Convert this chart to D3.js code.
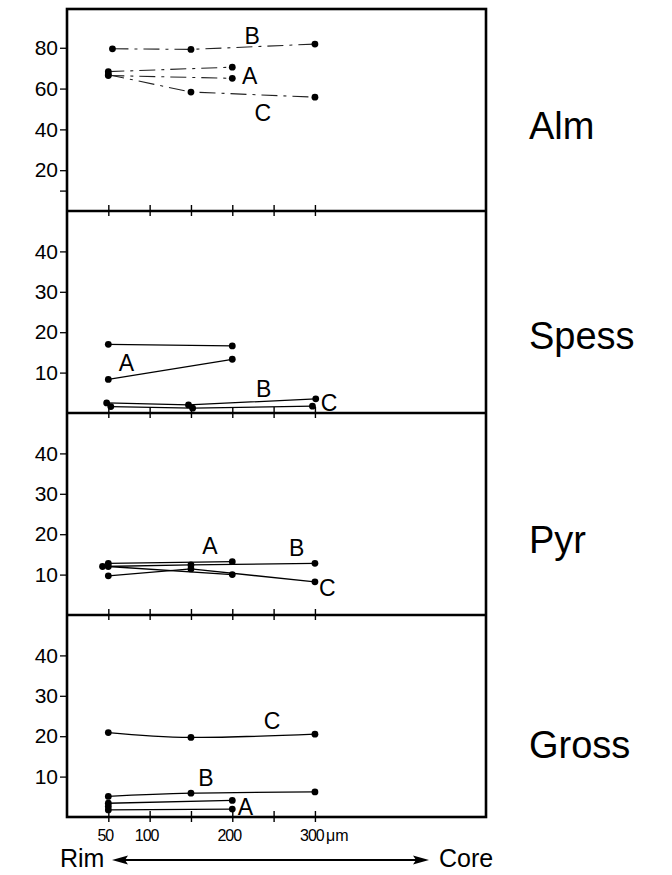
<!DOCTYPE html>
<html><head><meta charset="utf-8">
<script src="https://cdn.jsdelivr.net/npm/d3@7"></script>
<style>
html,body{margin:0;padding:0;background:#fff;}
svg text{font-family:"Liberation Sans","DejaVu Sans",sans-serif;fill:#000;}
</style></head>
<body><svg id="c" width="672" height="875"></svg>
<script>
// ---------- data ----------
const panelNames = ["Alm", "Spess", "Pyr", "Gross"];
const yMaxValues = [99, 50, 50, 50];
const yTicksAlm = [10, 20, 40, 60, 80];
const yLabelsAlm = [20, 40, 60, 80];
const yTicksOther = [10, 20, 30, 40];
const yLabelsOther = [10, 20, 30, 40];
const xTicks = [50, 100, 150, 200, 250, 300];
const xTickLabels = [50, 100, 200, 300];
const xUnit = "μm";

// lines: each is a list of [distance μm, mol %]
const almLines = [
  [[55, 79.5], [150, 79.2], [300, 81.8]],          // B
  [[50, 68.3], [200, 70.5]],                        // A
  [[50, 66.4], [200, 65.0]],                        // A
  [[50, 66.8], [150, 58.3], [300, 55.8]]            // C
];
const spessLines = [
  [[50, 17.0], [200, 16.6]],                        // A
  [[50, 8.3], [200, 13.3]],                         // A
  [[48, 2.5], [147, 2.0], [301, 3.5]],              // B
  [[53, 1.6], [152, 1.2], [297, 1.7]]               // C
];
const pyrLines = [
  [[50, 12.8], [200, 13.2]],                        // A
  [[50, 12.0], [200, 10.0]],                        // A
  [[43, 12.0], [150, 12.4], [300, 12.8]],           // B
  [[50, 9.7], [150, 11.4], [300, 8.2]]              // C
];
const grossLines = [
  [[50, 20.9], [150, 19.7], [300, 20.5]],           // C
  [[50, 5.1], [150, 5.9], [300, 6.2]],              // B
  [[50, 3.4], [200, 4.1]],                          // A
  [[50, 1.75], [200, 1.95]],                        // A
  [[50, 2.6]]
];
// series labels: [text, μm, value]
const almLabels = [["B", 224, 82], ["A", 221, 62.4], ["C", 237, 44]];
const spessLabels = [["A", 72, 10.4], ["B", 238, 4.0], ["C", 317, 0.5]];
const pyrLabels = [["A", 173, 15], ["B", 278, 14.6], ["C", 315, 4.7]];
const grossLabels = [["C", 248, 21.7], ["B", 168, 7.75], ["A", 216, 0.5]];

const panelLines = [almLines, spessLines, pyrLines, grossLines];
const panelLabels = [almLabels, spessLabels, pyrLabels, grossLabels];

// ---------- layout ----------
const svg = d3.select("#c");
const left = 67, right = 486, top0 = 9, ph = 202;
const x = d3.scaleLinear().domain([0, 507]).range([left, right]);
const nameOffsets = [130, 138, 140, 143];

panelNames.forEach((name, i) => {
  const y0 = top0 + i * ph;
  const y = d3.scaleLinear().domain([0, yMaxValues[i]]).range([y0 + ph, y0]);
  const g = svg.append("g");

  // y axis
  const ticks = i === 0 ? yTicksAlm : yTicksOther;
  const labs = i === 0 ? yLabelsAlm : yLabelsOther;
  const ya = g.append("g").attr("transform", `translate(${left},0)`)
    .call(d3.axisLeft(y).tickValues(ticks).tickSize(7).tickPadding(2)
      .tickFormat(d => labs.includes(d) ? d : ""));
  ya.select(".domain").remove();
  ya.selectAll("line").attr("stroke", "#000").attr("stroke-width", 1.3);
  ya.selectAll("text").style("font-size", "21px").attr("fill", "#000");

  // x ticks on bottom border of panel (crossing)
  const xa = g.append("g").attr("transform", `translate(0,${y0 + ph})`)
    .call(d3.axisBottom(x).tickValues(xTicks).tickSize(5).tickFormat(""));
  xa.select(".domain").remove();
  xa.selectAll("line").attr("y1", -6).attr("stroke", "#000").attr("stroke-width", 1.4);

  // lines
  const line = d3.line().x(d => x(d[0])).y(d => y(d[1]))
    .curve(i === 3 ? d3.curveNatural : d3.curveLinear);
  panelLines[i].forEach(s => {
    if (s.length > 1) {
      g.append("path").attr("d", line(s)).attr("fill", "none")
        .attr("stroke", i === 0 ? "#222" : "#000")
        .attr("stroke-width", i === 0 ? 1.1 : 1.3)
        .attr("stroke-dasharray", i === 0 ? "16,6,3,6" : null);
    }
    g.selectAll(null).data(s).enter().append("circle")
      .attr("cx", d => x(d[0])).attr("cy", d => y(d[1])).attr("r", 3.4).attr("fill", "#000");
  });

  // series letters
  panelLabels[i].forEach(l => {
    g.append("text").attr("x", x(l[1])).attr("y", y(l[2]))
      .attr("text-anchor", "middle").style("font-size", "23px").text(l[0]);
  });

  // panel name
  g.append("text").attr("x", 529).attr("y", y0 + nameOffsets[i])
    .style("font-size", "38px").text(name);

  // divider
  if (i > 0) {
    g.append("line").attr("x1", left).attr("x2", right).attr("y1", y0).attr("y2", y0)
      .attr("stroke", "#000").attr("stroke-width", 2.6);
  }
});

// frame
svg.append("rect").attr("x", left).attr("y", top0).attr("width", right - left)
  .attr("height", ph * 4).attr("fill", "none").attr("stroke", "#000").attr("stroke-width", 2.6);

// bottom x tick labels
const bottomY = top0 + 4 * ph;
xTickLabels.forEach(v => {
  svg.append("text").attr("x", x(v) - 3).attr("y", bottomY + 24)
    .attr("text-anchor", "middle").style("font-size", "16px")
    .style("letter-spacing", "-1px").text(v);
});
svg.append("text").attr("x", x(300) + 11).attr("y", bottomY + 24)
  .style("font-size", "16px").text(xUnit);

// Rim <-> Core
const ay = 860;
svg.append("text").attr("x", 60).attr("y", ay + 7).style("font-size", "25px").text("Rim");
svg.append("text").attr("x", 439).attr("y", ay + 7).style("font-size", "25px").text("Core");
svg.append("line").attr("x1", 120).attr("x2", 420).attr("y1", ay).attr("y2", ay)
  .attr("stroke", "#000").attr("stroke-width", 2.2);
svg.append("path").attr("d", `M112,${ay} L128,${ay - 4.5} L125,${ay} L128,${ay + 4.5} Z`).attr("fill", "#000");
svg.append("path").attr("d", `M429,${ay} L413,${ay - 4.5} L416,${ay} L413,${ay + 4.5} Z`).attr("fill", "#000");
</script></body></html>
